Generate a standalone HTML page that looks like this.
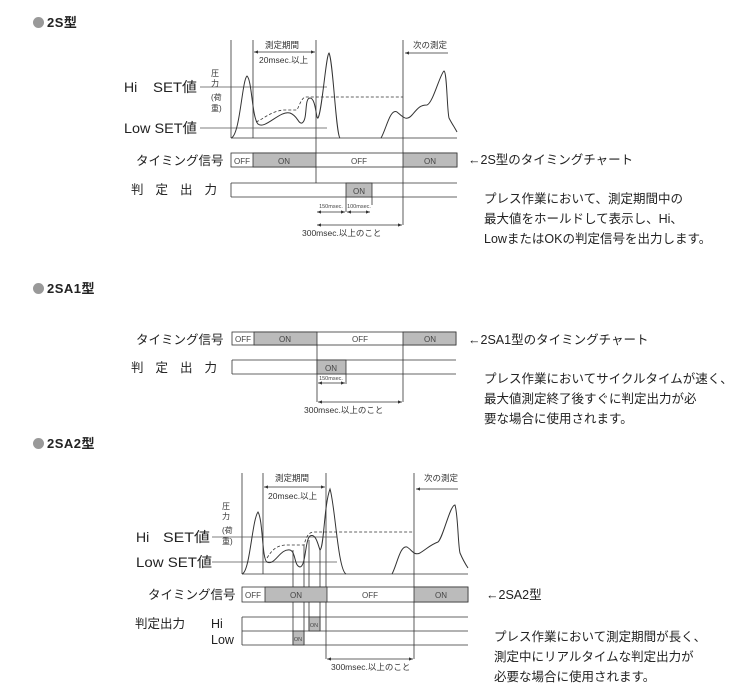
<!DOCTYPE html>
<html><head><meta charset="utf-8"><style>
html,body{margin:0;padding:0;background:#fff;}
body{width:745px;height:700px;position:relative;overflow:hidden;font-family:"Liberation Sans","Noto Sans CJK JP",sans-serif;color:#222;}
.h{position:absolute;left:33px;font-size:13px;font-weight:bold;color:#222;letter-spacing:0.5px}
.h i{display:inline-block;width:11px;height:11px;border-radius:50%;background:#999;margin-right:3px;vertical-align:-1px}
.d{position:absolute;font-size:12.5px;line-height:20px;color:#222;}
</style></head><body>
<div class="h" style="top:12px"><i></i>2S型</div>
<div class="h" style="top:278px"><i></i>2SA1型</div>
<div class="h" style="top:433px"><i></i>2SA2型</div>
<div class="d" style="left:468px;top:150px">←2S型のタイミングチャート</div>
<div class="d" style="left:484px;top:189px">プレス作業において、測定期間中の<br>最大値をホールドして表示し、Hi、<br>LowまたはOKの判定信号を出力します。</div>
<div class="d" style="left:468px;top:330px">←2SA1型のタイミングチャート</div>
<div class="d" style="left:484px;top:369px">プレス作業においてサイクルタイムが速く、<br>最大値測定終了後すぐに判定出力が必<br>要な場合に使用されます。</div>
<div class="d" style="left:486px;top:585px">←2SA2型</div>
<div class="d" style="left:494px;top:627px">プレス作業において測定期間が長く、<br>測定中にリアルタイムな判定出力が<br>必要な場合に使用されます。</div>

<svg width="745" height="700" style="position:absolute;left:0;top:0" font-family="Liberation Sans, Noto Sans CJK JP, sans-serif">
<defs>
<marker id="a" markerWidth="6" markerHeight="6" refX="5" refY="3" orient="auto-start-reverse"><path d="M0,1 L5,3 L0,5z" fill="#333"/></marker>
</defs>
<g stroke="#333" stroke-width="0.8" fill="none">
<line x1="231" y1="40" x2="231" y2="138"/>
<line x1="253" y1="40" x2="253" y2="138"/>
<line x1="316" y1="40" x2="316" y2="183"/>
<line x1="403" y1="40" x2="403" y2="225"/>
<line x1="231" y1="138" x2="457" y2="138"/>
<line x1="200" y1="87" x2="327" y2="87" stroke="#555"/>
<line x1="200" y1="128" x2="327" y2="128" stroke="#555"/>
<path d="M231,138 C240,136 242,80 247,76 C252,80 252,118 258,124 C265,130 280,110 290,113 C298,116 298,124 302,123 C308,120 304,98 310,98 C316,98 316,120 318,118 C322,112 326,55 329,53 C333,60 336,135 340,138" stroke-width="1"/>
<path d="M381,138 C386,130 390,108 397,112 C402,116 406,122 412,115 C418,108 420,105 427,105 C433,103 440,74 444,71 C447,72 447,110 449,118 C452,124 455,128 457,132" stroke-width="1"/>
<path d="M256,122 C265,118 270,112 283,110 L297,110 C300,104 302,97 306,97 L403,97" stroke-dasharray="3,2"/>
<line x1="254" y1="52" x2="315" y2="52" marker-start="url(#a)" marker-end="url(#a)"/>
<line x1="448" y1="53" x2="405" y2="53" marker-end="url(#a)"/>
<rect x="231" y="153" width="226" height="14" fill="#fff"/>
<rect x="253" y="153" width="63" height="14" fill="#bbb"/>
<rect x="403" y="153" width="54" height="14" fill="#bbb"/>
<line x1="231" y1="183" x2="457" y2="183"/><line x1="231" y1="197" x2="457" y2="197"/><line x1="231" y1="183" x2="231" y2="197"/>
<rect x="346" y="183" width="26" height="14" fill="#bbb"/>
<line x1="346" y1="197" x2="346" y2="212"/><line x1="372" y1="197" x2="372" y2="205"/>
<line x1="317" y1="212" x2="345" y2="212" marker-start="url(#a)" marker-end="url(#a)"/>
<line x1="347" y1="212" x2="370" y2="212" marker-start="url(#a)" marker-end="url(#a)"/>
<line x1="317" y1="225" x2="402" y2="225" marker-start="url(#a)" marker-end="url(#a)"/>

<rect x="232" y="332" width="224" height="13" fill="#fff"/>
<rect x="254" y="332" width="63" height="13" fill="#bbb"/>
<rect x="403" y="332" width="53" height="13" fill="#bbb"/>
<line x1="317" y1="345" x2="317" y2="402"/><line x1="403" y1="345" x2="403" y2="402"/>
<line x1="232" y1="360" x2="456" y2="360"/><line x1="232" y1="374" x2="456" y2="374"/><line x1="232" y1="360" x2="232" y2="374"/>
<rect x="317" y="360" width="29" height="14" fill="#bbb"/>
<line x1="346" y1="374" x2="346" y2="384"/>
<line x1="318" y1="383" x2="345" y2="383" marker-start="url(#a)" marker-end="url(#a)"/>
<line x1="318" y1="402" x2="402" y2="402" marker-start="url(#a)" marker-end="url(#a)"/>

<line x1="242" y1="473" x2="242" y2="574"/>
<line x1="263" y1="473" x2="263" y2="574"/>
<line x1="326" y1="473" x2="326" y2="659"/>
<line x1="414" y1="473" x2="414" y2="659"/>
<line x1="242" y1="574" x2="468" y2="574"/>
<line x1="212" y1="537" x2="337" y2="537" stroke="#555"/>
<line x1="212" y1="562" x2="337" y2="562" stroke="#555"/>
<path d="M242,574 C250,572 252,520 258,512 C263,520 262,560 267,562 C275,566 280,548 290,550 C296,552 294,566 300,567 C306,566 305,540 310,536 C316,533 318,545 320,550 C324,548 324,505 330,489 C335,505 338,570 346,574" stroke-width="1"/>
<path d="M392,574 C397,565 400,545 407,547 C412,550 414,556 420,553 C428,548 430,545 438,542 C443,538 450,505 455,505 C458,515 458,545 460,553 C463,560 466,565 468,568" stroke-width="1"/>
<path d="M267,558 C272,550 276,546 285,545 L304,545 C306,538 308,532 314,532 L414,532" stroke-dasharray="3,2"/>
<line x1="264" y1="487" x2="325" y2="487" marker-start="url(#a)" marker-end="url(#a)"/>
<line x1="458" y1="489" x2="416" y2="489" marker-end="url(#a)"/>
<line x1="293" y1="550" x2="293" y2="645"/>
<line x1="304" y1="545" x2="304" y2="645"/>
<line x1="309" y1="540" x2="309" y2="631"/>
<line x1="320" y1="550" x2="320" y2="631"/>
<rect x="242" y="587" width="226" height="15" fill="#fff"/>
<rect x="265" y="587" width="62" height="15" fill="#bbb"/>
<rect x="414" y="587" width="54" height="15" fill="#bbb"/>
<line x1="242" y1="617" x2="468" y2="617"/><line x1="242" y1="631" x2="468" y2="631"/><line x1="242" y1="645" x2="468" y2="645"/>
<line x1="242" y1="617" x2="242" y2="645"/>
<rect x="309" y="617" width="11" height="14" fill="#bbb"/>
<rect x="293" y="631" width="11" height="14" fill="#bbb"/>
<line x1="327" y1="659" x2="413" y2="659" marker-start="url(#a)" marker-end="url(#a)"/>
</g>

<g fill="#222" font-size="14">
<text x="124" y="92">Hi</text>
<text x="153" y="92" textLength="44" lengthAdjust="spacingAndGlyphs">SET値</text>
<text x="124" y="133" textLength="73" lengthAdjust="spacingAndGlyphs">Low SET値</text>
<text x="136" y="542">Hi</text>
<text x="163" y="542" textLength="47" lengthAdjust="spacingAndGlyphs">SET値</text>
<text x="136" y="567" textLength="76" lengthAdjust="spacingAndGlyphs">Low  SET値</text>
</g>
<g fill="#222" font-size="12.5">
<text x="136" y="165">タイミング信号</text>
<text x="131" y="194" letter-spacing="12">判定出力</text>
<text x="136" y="344">タイミング信号</text>
<text x="131" y="372" letter-spacing="12">判定出力</text>
<text x="148" y="599">タイミング信号</text>
<text x="135" y="628">判定出力</text>
<text x="211" y="628">Hi</text>
<text x="211" y="644">Low</text>
</g>
<g fill="#333" font-size="8.5">
<text x="265" y="48">測定期間</text>
<text x="259" y="63">20msec.以上</text>
<text x="413" y="48">次の測定</text>
<text x="302" y="236">300msec.以上のこと</text>
<text x="304" y="413">300msec.以上のこと</text>
<text x="275" y="481">測定期間</text>
<text x="268" y="499">20msec.以上</text>
<text x="424" y="481">次の測定</text>
<text x="331" y="670">300msec.以上のこと</text>
<text x="211" y="76" font-size="8">圧</text><text x="211" y="86" font-size="8">力</text>
<text x="211" y="100" font-size="8">(荷</text><text x="211" y="111" font-size="8">重)</text>
<text x="222" y="509" font-size="8">圧</text><text x="222" y="519" font-size="8">力</text>
<text x="222" y="533" font-size="8">(荷</text><text x="222" y="544" font-size="8">重)</text>
</g>
<g fill="#444" font-size="8" text-anchor="middle">
<text x="242" y="164">OFF</text><text x="284" y="164">ON</text><text x="359" y="164">OFF</text><text x="430" y="164">ON</text>
<text x="359" y="194">ON</text>
<text x="243" y="342">OFF</text><text x="285" y="342">ON</text><text x="360" y="342">OFF</text><text x="430" y="342">ON</text>
<text x="331" y="371">ON</text>
<text x="253" y="598">OFF</text><text x="296" y="598">ON</text><text x="370" y="598">OFF</text><text x="441" y="598">ON</text>
<text x="331" y="208" font-size="5.5">150msec.</text><text x="359" y="208" font-size="5.5">100msec.</text>
<text x="331" y="380" font-size="5.5">150msec.</text>
<text x="314" y="627" font-size="5.5">ON</text><text x="298" y="641" font-size="5.5">ON</text>
</g>
</svg>
</body></html>
